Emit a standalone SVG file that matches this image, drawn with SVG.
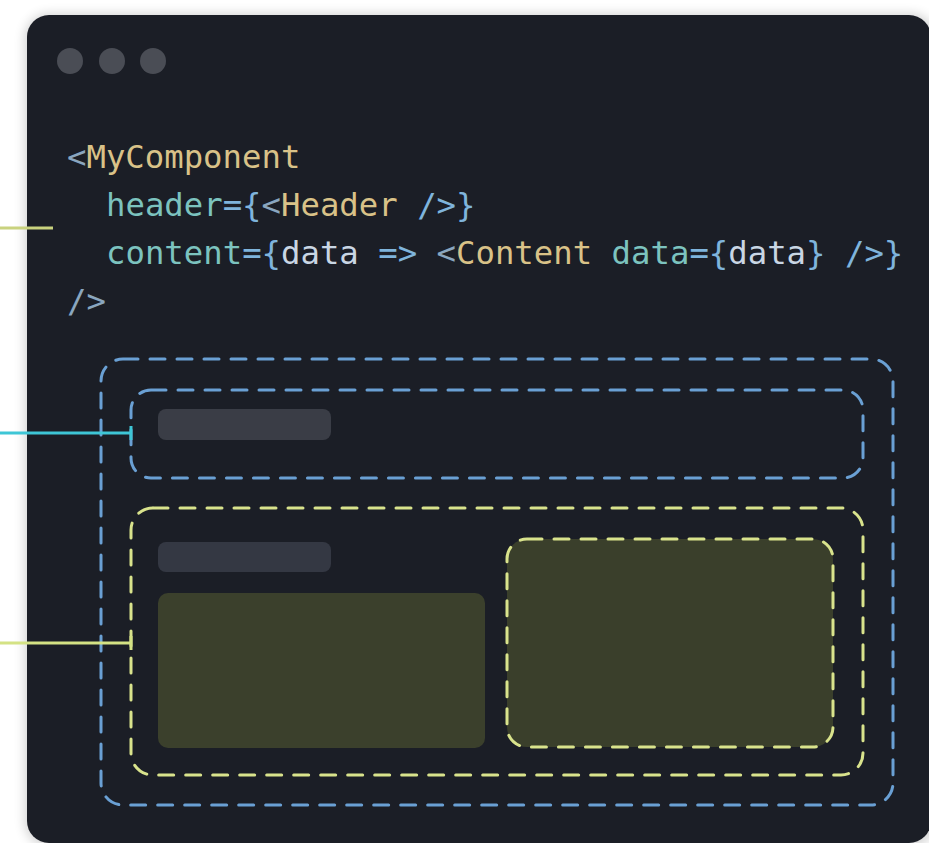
<svg xmlns="http://www.w3.org/2000/svg" width="929" height="843" viewBox="0 0 929 843">
  <style>
    .code { font-family: "DejaVu Sans Mono", "Liberation Mono", monospace; font-size: 32.3px; font-weight: 500; }
    .p { fill: #8aa6bf; }
    .tag { fill: #d9c288; }
    .attr { fill: #7cc3bf; }
    .br { fill: #7fb4dc; }
    .val { fill: #c9d6e4; }
    .dash-blue { fill: none; stroke: #6aa0d4; stroke-width: 3; stroke-dasharray: 15 12; stroke-linecap: round; }
    .dash-yellow { fill: none; stroke: #d9e38c; stroke-width: 3; stroke-dasharray: 15 12; stroke-linecap: round; }
    .bar { fill: #3a3d46; }
    .olive { fill: #3b402c; }
  </style>
  <defs>
    <filter id="shadow" x="-5%" y="-5%" width="110%" height="110%">
      <feGaussianBlur stdDeviation="6"/>
    </filter>
  </defs>

  <rect width="929" height="843" fill="#ffffff"/>

  <!-- window frame -->
  <g id="window">
    <rect x="25" y="14" width="910" height="832" rx="24" fill="#000" opacity="0.18" filter="url(#shadow)"/>
    <rect x="27" y="15" width="904" height="828" rx="22" fill="#1b1e26"/>
    <circle cx="70" cy="61" r="13" fill="#4a4d55"/>
    <circle cx="112" cy="61" r="13" fill="#4a4d55"/>
    <circle cx="153" cy="61" r="13" fill="#4a4d55"/>
  </g>

  <!-- JSX snippet -->
  <g id="code" class="code">
    <text x="67" y="168"><tspan class="p">&lt;</tspan><tspan class="tag">MyComponent</tspan></text>
    <text x="106" y="216"><tspan class="attr">header</tspan><tspan class="br">={</tspan><tspan class="p">&lt;</tspan><tspan class="tag">Header</tspan><tspan class="br" xml:space="preserve"> /&gt;}</tspan></text>
    <text x="106" y="264" xml:space="preserve"><tspan class="attr">content</tspan><tspan class="br">={</tspan><tspan class="val">data</tspan><tspan class="br"> =&gt; </tspan><tspan class="p">&lt;</tspan><tspan class="tag">Content</tspan><tspan class="attr"> data</tspan><tspan class="br">={</tspan><tspan class="val">data</tspan><tspan class="br">} /&gt;}</tspan></text>
    <text x="67" y="312" class="p">/&gt;</text>
  </g>

  <!-- rendered layout -->
  <g id="my-component">
    <rect class="dash-blue" x="101" y="359" width="792" height="446" rx="22"/>
  </g>
  <g id="header-slot">
    <rect class="dash-blue" x="131" y="390" width="732" height="88" rx="20"/>
    <rect class="bar" x="158" y="409" width="173" height="31" rx="8"/>
  </g>
  <g id="content-slot">
    <rect class="dash-yellow" x="131" y="508" width="732" height="267" rx="22"/>
    <rect x="158" y="542" width="173" height="30" rx="8" fill="#343843"/>
    <rect class="olive" x="158" y="593" width="327" height="155" rx="10"/>
  </g>
  <g id="content-render">
    <rect class="dash-yellow" x="507" y="539" width="326" height="208" rx="20" style="fill:#3a3f2b"/>
  </g>

  <!-- connectors -->
  <g id="connectors" fill="none" stroke-width="3">
    <line x1="0" y1="228" x2="53" y2="228" stroke="#c9d27e"/>
    <line x1="0" y1="433" x2="131" y2="433" stroke="#3ec6d6"/>
    <line x1="131" y1="426" x2="131" y2="440" stroke="#3ec6d6"/>
    <line x1="0" y1="643" x2="131" y2="643" stroke="#d4e284"/>
    <line x1="131" y1="636" x2="131" y2="650" stroke="#d4e284"/>
  </g>
</svg>
